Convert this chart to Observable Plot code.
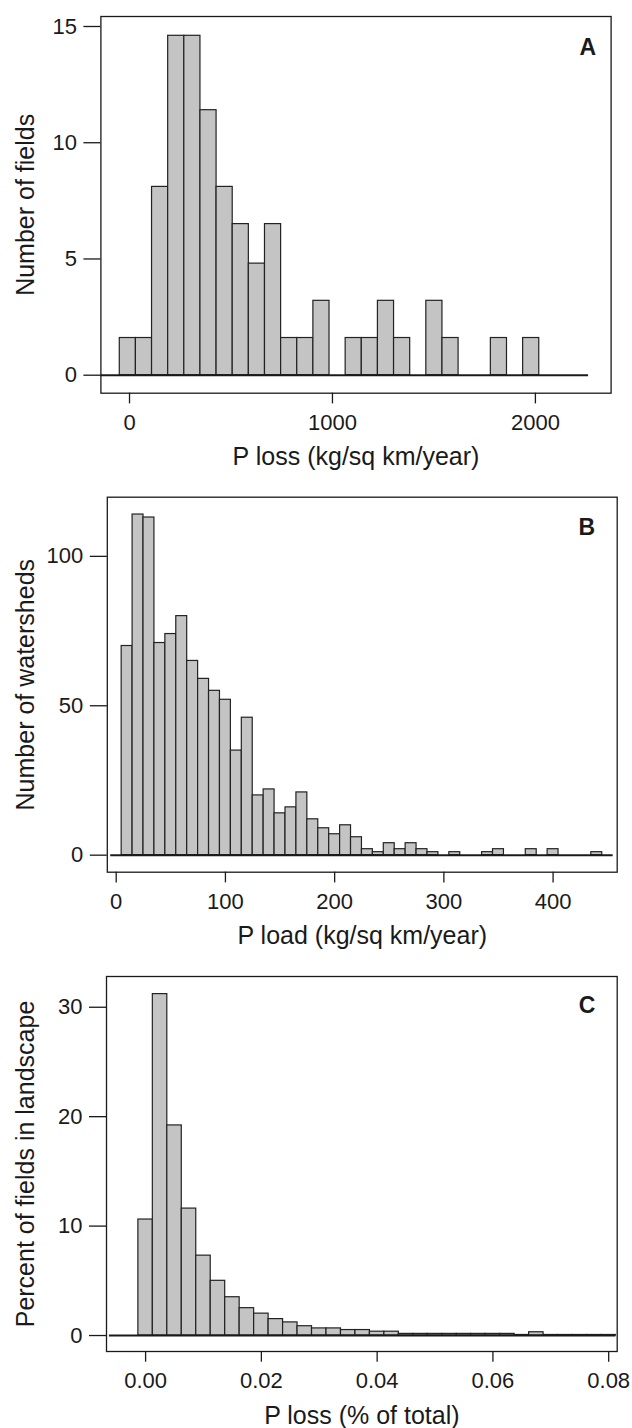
<!DOCTYPE html>
<html><head><meta charset="utf-8">
<script src="https://cdn.jsdelivr.net/npm/d3@7"></script>
<script src="https://cdn.jsdelivr.net/npm/@observablehq/plot@0.6"></script>
<style>
html,body{margin:0;padding:0;background:#fff;}
#chart{width:632px;}
#chart svg{display:block;}
</style></head><body><div id="chart"></div>
<script>
// Panel A: P loss (kg/sq km/year)
const edgesA = [-48, 31.5, 111, 190.5, 270, 349.5, 429, 508.5, 588, 667.5, 747, 826.5, 906, 985.5, 1065, 1144.5, 1224, 1303.5, 1383, 1462.5, 1542, 1621.5, 1701, 1780.5, 1860, 1939.5, 2019];
const valuesA = [1.6, 1.6, 8.1, 14.6, 14.6, 11.4, 8.1, 6.5, 4.8, 6.5, 1.6, 1.6, 3.2, 0, 1.6, 1.6, 3.2, 1.6, 0, 3.2, 1.6, 0, 0, 1.6, 0, 1.6];
const baselineA = [-141, 2262];
const xTicksA = [0, 1000, 2000];
const yTicksA = [0, 5, 10, 15];

// Panel B: P load (kg/sq km/year)
const edgesB = [5, 15, 25, 35, 45, 55, 65, 75, 85, 95, 105, 115, 125, 135, 145, 155, 165, 175, 185, 195, 205, 215, 225, 235, 245, 255, 265, 275, 285, 295, 305, 315, 325, 335, 345, 355, 365, 375, 385, 395, 405, 415, 425, 435, 445];
const valuesB = [70, 114, 113, 71, 74, 80, 65, 59, 55, 52, 35, 46, 20, 22, 14, 16, 21, 12, 9, 7, 10, 6, 2, 1, 4, 2, 4, 2, 1, 0, 1, 0, 0, 1, 2, 0, 0, 2, 0, 2, 0, 0, 0, 1];
const baselineB = [-5, 455];
const xTicksB = [0, 100, 200, 300, 400];
const yTicksB = [0, 50, 100];

// Panel C: P loss (% of total)
const edgesC = [-0.00625, -0.00375, -0.00125, 0.00125, 0.00375, 0.00625, 0.00875, 0.01125, 0.01375, 0.01625, 0.01875, 0.02125, 0.02375, 0.02625, 0.02875, 0.03125, 0.03375, 0.03625, 0.03875, 0.04125, 0.04375, 0.04625, 0.04875, 0.05125, 0.05375, 0.05625, 0.05875, 0.06125, 0.06375, 0.06625, 0.06875, 0.07125, 0.07375, 0.07625, 0.07875, 0.08125];
const valuesC = [0, 0, 10.6, 31.2, 19.2, 11.6, 7.3, 5.0, 3.5, 2.5, 2.0, 1.5, 1.2, 0.85, 0.65, 0.65, 0.5, 0.5, 0.35, 0.35, 0.15, 0.15, 0.15, 0.15, 0.15, 0.15, 0.15, 0.15, 0.05, 0.3, 0.05, 0.05, 0.05, 0.05, 0.05];
const baselineC = [-0.00625, 0.08125];
const xTicksC = [0, 0.02, 0.04, 0.06, 0.08];
const yTicksC = [0, 10, 20, 30];

const FONT = "'Liberation Sans', Arial, Helvetica, sans-serif";
const INK = "#1a1a1a";

function panel(o) {
  const bins = o.values.map((v, i) => ({x1: o.edges[i], x2: o.edges[i + 1], v})).filter(d => d.v > 0);
  return Plot.plot({
    width: 632, height: o.height,
    marginTop: o.mt, marginBottom: o.mb, marginLeft: o.ml, marginRight: o.mr,
    style: {fontFamily: FONT, color: INK, background: "white", overflow: "visible"},
    x: {domain: o.xDomain},
    y: {domain: o.yDomain},
    marks: [
      Plot.rect(bins, {x1: "x1", x2: "x2", y1: 0, y2: "v", fill: "#c3c4c3", stroke: "#222", strokeWidth: 1.2, inset: 0}),
      Plot.ruleY([0], {x1: o.baseline[0], x2: o.baseline[1], stroke: INK, strokeWidth: 2}),
      Plot.frame({stroke: INK, strokeWidth: 1.3}),
      Plot.axisX({ticks: o.xTicks, tickSize: 10.7, tickPadding: 10, tickFormat: o.tickFormat, fontSize: 22, label: null, strokeWidth: 1.3}),
      Plot.axisY({ticks: o.yTicks, tickSize: 17, tickPadding: 7, tickFormat: d3.format("d"), fontSize: 22, label: null, strokeWidth: 1.3}),
      Plot.text([o.xLabel], {text: d => d, frameAnchor: "bottom", textAnchor: "middle", lineAnchor: "bottom", dy: o.xLabelOffset, fontSize: 25}),
      Plot.text([o.yLabel], {text: d => d, frameAnchor: "left", textAnchor: "middle", lineAnchor: "top", rotate: -90, dx: -o.yLabelOffset, fontSize: 25}),
      Plot.text([o.letter], {text: d => d, frameAnchor: "top-right", textAnchor: "end", lineAnchor: "top", dx: o.letterDx, dy: o.letterDy, fontSize: 23, fontWeight: "bold"})
    ]
  });
}

const root = document.getElementById("chart");
root.append(panel({
  edges: edgesA, values: valuesA, baseline: baselineA, xTicks: xTicksA, yTicks: yTicksA,
  tickFormat: d3.format("d"),
  xDomain: [-141, 2373], yDomain: [-0.774, 15.43],
  height: 480, mt: 16, mb: 87.3, ml: 100.4, mr: 21.4,
  xLabel: "P loss (kg/sq km/year)", yLabel: "Number of fields", letter: "A",
  xLabelOffset: 72, yLabelOffset: 84.4, letterDx: -15, letterDy: 22
}));
root.append(panel({
  edges: edgesB, values: valuesB, baseline: baselineB, xTicks: xTicksB, yTicks: yTicksB,
  tickFormat: d3.format("d"),
  xDomain: [-8.15, 458.7], yDomain: [-5.7, 119.8],
  height: 480, mt: 16.7, mb: 88.3, ml: 106.8, mr: 15.3,
  xLabel: "P load (kg/sq km/year)", yLabel: "Number of watersheds", letter: "B",
  xLabelOffset: 71.6, yLabelOffset: 90.8, letterDx: -22, letterDy: 21.3
}));
root.append(panel({
  edges: edgesC, values: valuesC, baseline: baselineC, xTicks: xTicksC, yTicks: yTicksC,
  tickFormat: d3.format(".2f"),
  xDomain: [-0.006755, 0.08147], yDomain: [-1.46, 32.81],
  height: 468, mt: 16, mb: 77, ml: 106, mr: 15.3,
  xLabel: "P loss (% of total)", yLabel: "Percent of fields in landscape", letter: "C",
  xLabelOffset: 72, yLabelOffset: 90, letterDx: -21.8, letterDy: 19.7
}));
</script></body></html>
